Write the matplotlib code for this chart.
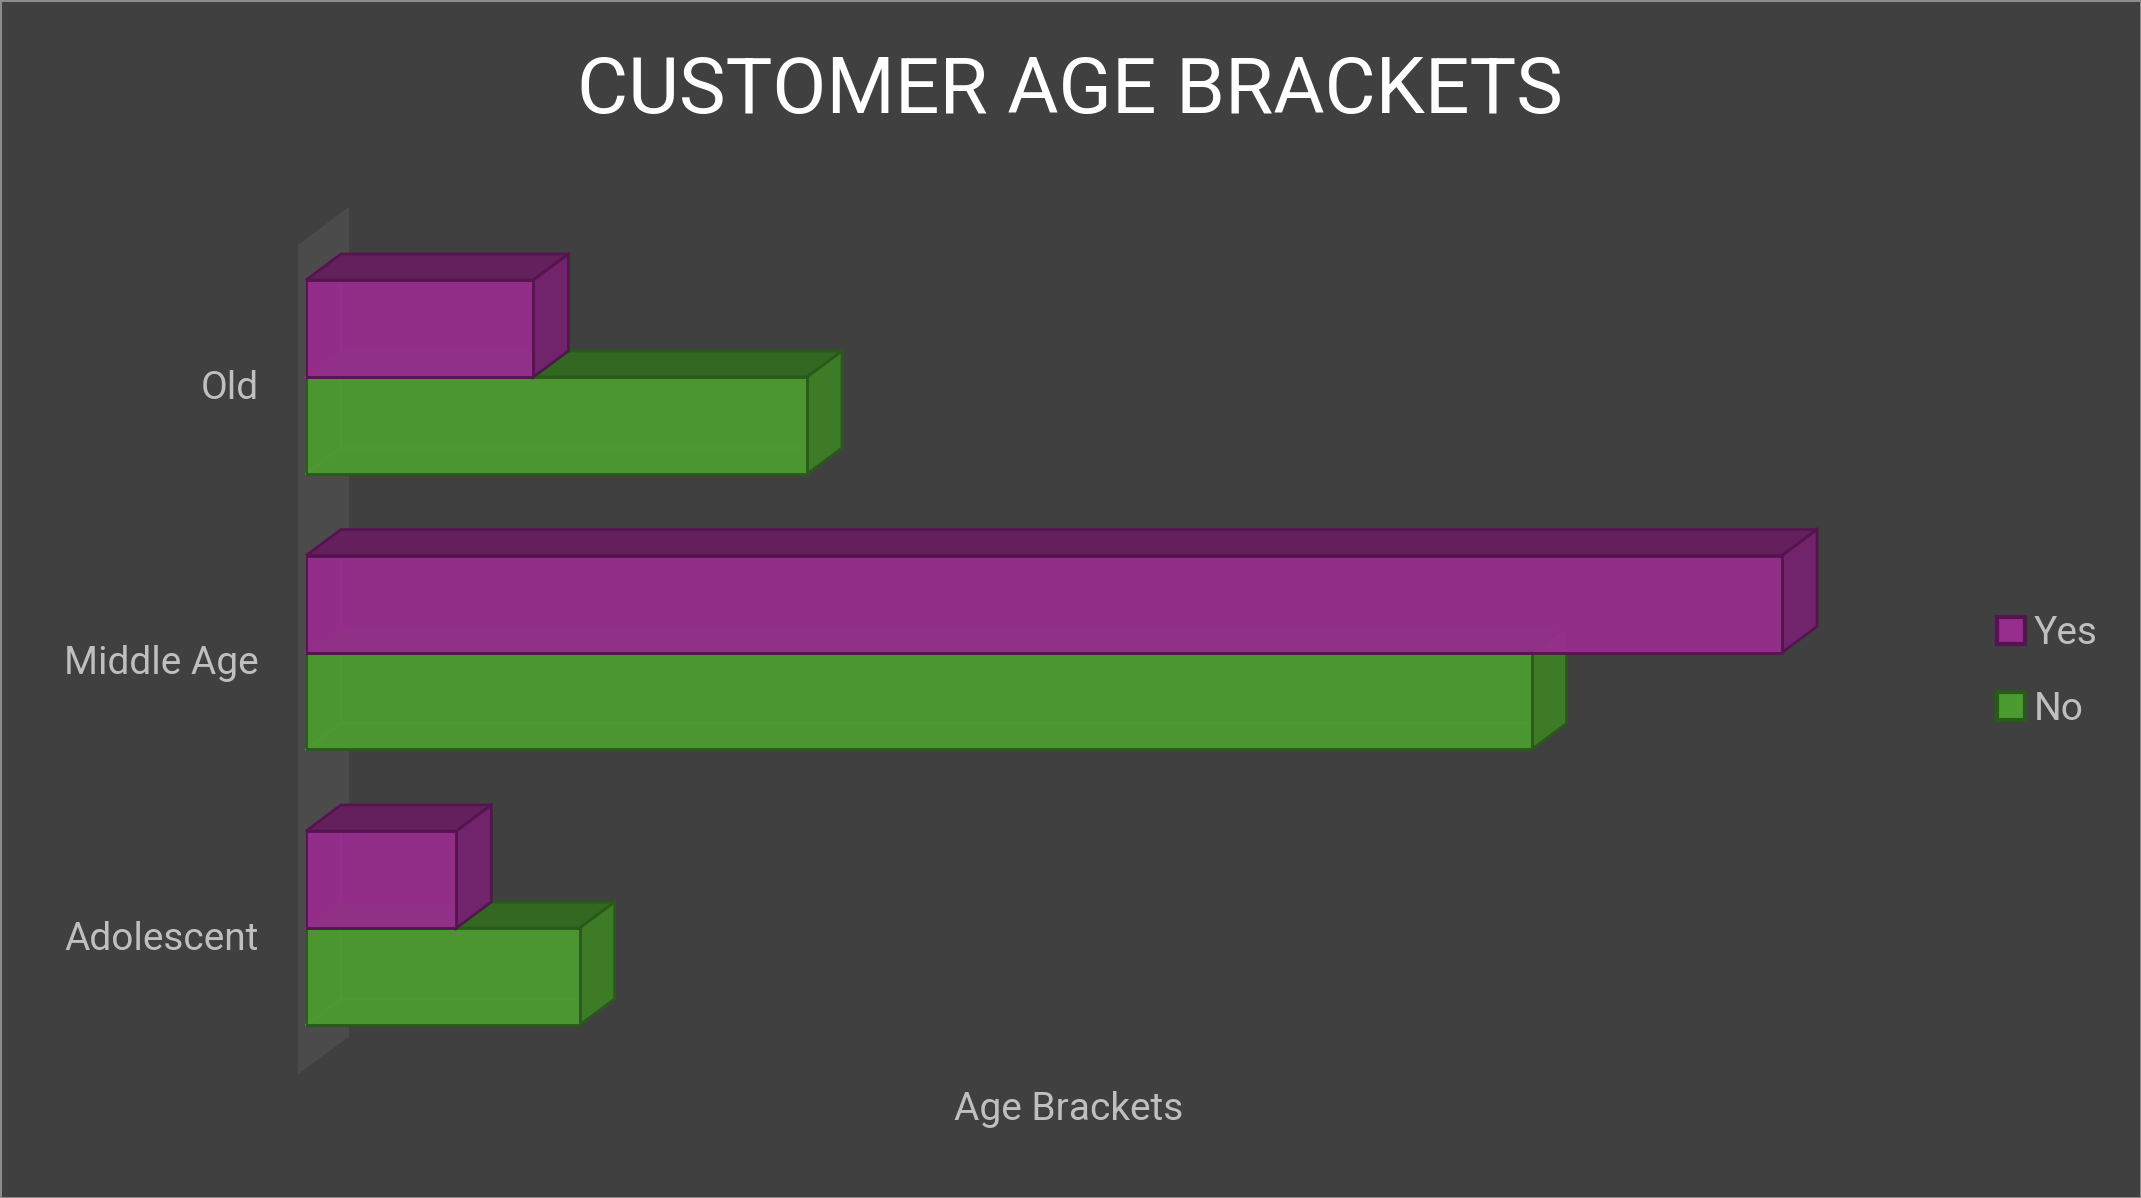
import matplotlib
matplotlib.use("Agg")
import matplotlib.pyplot as plt
from matplotlib.patches import Polygon, Patch
from matplotlib.transforms import ScaledTranslation

# ---------------- data ----------------
categories = ["Adolescent", "Middle Age", "Old"]
series_names = ["Yes", "No"]
yes_values = [39, 383, 59]
no_values = [71, 318, 130]
title_text = "CUSTOMER AGE BRACKETS"
x_axis_title = "Age Brackets"

# ---------------- style ----------------
BG = "#404040"
WALL = "#4b4b4b"
TEXT_GRAY = "#bfbfbf"
PURPLE = dict(front="#972d8d", top="#64205c", side="#71236b", edge="#551450", hidden="#a83a9c")
GREEN = dict(front="#4c9b30", top="#346722", side="#3d7b27", edge="#285a1a", hidden="#5aae3a")
FONT = ["Roboto", "DejaVu Sans"]

W, H = 2141, 1198
fig = plt.figure(figsize=(W / 100, H / 100), dpi=100)
fig.patch.set_facecolor(BG)
fig.patch.set_edgecolor("#8c8c8c")
fig.patch.set_linewidth(2)

# axes placement in pixels
ax_left, ax_right = 306, 1831
ax_top, ax_bottom = 200, 1060
ax = fig.add_axes([ax_left / W, 1 - ax_bottom / H, (ax_right - ax_left) / W, (ax_bottom - ax_top) / H])
ax.set_facecolor("none")

px_per_unit_x = 3.854
px_per_unit_y = 275.5
ax.set_xlim(0, (ax_right - ax_left) / px_per_unit_x)
y_top = 2 + 177 / px_per_unit_y
ax.set_ylim(y_top - (ax_bottom - ax_top) / px_per_unit_y, y_top)

DX = 35 / px_per_unit_x
DY = 26 / px_per_unit_y
BAR_H = 0.352
LW = 2.0

# side wall
wx0, wx1 = -8 / px_per_unit_x, 43 / px_per_unit_x
wall_top_front = y_top - 45 / px_per_unit_y
wall_top_back = y_top - 6.7 / px_per_unit_y
wall_bot_front = y_top - 874 / px_per_unit_y
wall_bot_back = y_top - 836.7 / px_per_unit_y
ax.add_patch(Polygon([(wx0, wall_bot_front), (wx0, wall_top_front), (wx1, wall_top_back), (wx1, wall_bot_back)],
                     closed=True, facecolor=WALL, edgecolor="none", clip_on=False, zorder=1))


def draw_box(v, y0, y1, c, z):
    # hidden back edges (seen through the translucent front)
    for (xa, ya), (xb, yb) in [((DX, y0 + DY), (DX, y1 + DY)),
                               ((DX, y0 + DY), (v + DX, y0 + DY)),
                               ((0, y0), (DX, y0 + DY))]:
        ax.plot([xa, xb], [ya, yb], color=c["hidden"], lw=1.5, alpha=0.6, zorder=z, clip_on=False)
    top = [(0, y1), (v, y1), (v + DX, y1 + DY), (DX, y1 + DY)]
    side = [(v, y0), (v + DX, y0 + DY), (v + DX, y1 + DY), (v, y1)]
    ax.add_patch(Polygon(top, closed=True, facecolor=c["top"], edgecolor=c["edge"], lw=LW,
                         joinstyle="miter", clip_on=False, zorder=z))
    ax.add_patch(Polygon(side, closed=True, facecolor=c["side"], edgecolor=c["edge"], lw=LW,
                         joinstyle="miter", clip_on=False, zorder=z + 0.1))
    bars = ax.barh([(y0 + y1) / 2], [v], height=y1 - y0, left=0, color=c["front"], alpha=0.95,
                   edgecolor="none", zorder=z + 0.2)
    for b in bars:
        b.set_clip_on(False)
    ax.barh([(y0 + y1) / 2], [v], height=y1 - y0, left=0, color="none",
            edgecolor=c["edge"], lw=LW, zorder=z + 0.3)


for i, cat in enumerate(categories):
    z = 3 + (len(categories) - i) * 2
    draw_box(no_values[i], i - BAR_H, i, GREEN, z)
    draw_box(yes_values[i], i, i + BAR_H, PURPLE, z + 1)

# axes styling
for s in ax.spines.values():
    s.set_visible(False)
ax.set_xticks([])
ax.set_yticks(range(len(categories)))
ax.set_yticklabels(categories, fontsize=28, color=TEXT_GRAY, family=FONT)
ax.tick_params(axis="y", length=0, pad=34)
shift = ScaledTranslation(0, -7.5 / 100, fig.dpi_scale_trans)
for lab in ax.get_yticklabels():
    lab.set_transform(lab.get_transform() + shift)
ax.set_xlabel(x_axis_title, fontsize=28, color=TEXT_GRAY, family=FONT, labelpad=22)

# title
fig.text(1070 / W, 1 - 113 / H, title_text, ha="center", va="baseline", fontsize=56.5,
         color="white", family=FONT)

# legend
handles = [Patch(facecolor=PURPLE["front"], edgecolor=PURPLE["edge"], lw=3, label=series_names[0]),
           Patch(facecolor=GREEN["front"], edgecolor=GREEN["edge"], lw=3, label=series_names[1])]
leg = fig.legend(handles=handles, loc="upper left", bbox_to_anchor=(1997 / W, 1 - 615 / H),
                 frameon=False, handlelength=0.72, handleheight=0.72,
                 handletextpad=0.22, labelspacing=1.0, borderaxespad=0, borderpad=0,
                 prop={"family": FONT, "size": 28})
for t in leg.get_texts():
    t.set_color(TEXT_GRAY)

fig.savefig("out.png", dpi=100, facecolor=BG, edgecolor=fig.patch.get_edgecolor())
